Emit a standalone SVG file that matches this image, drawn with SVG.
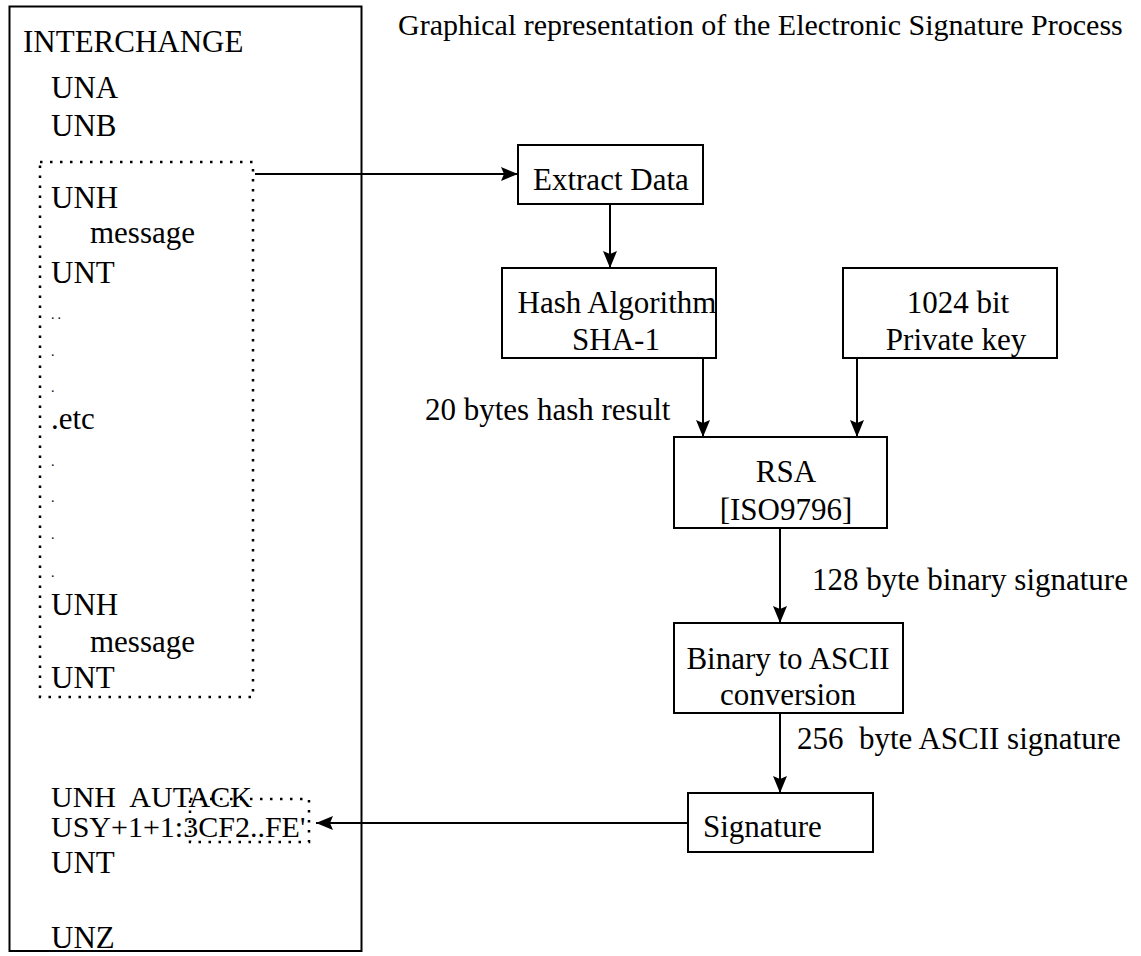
<svg xmlns="http://www.w3.org/2000/svg" width="1141" height="956" viewBox="0 0 1141 956">
<style>
  text { font-family: "Liberation Serif", "Times New Roman", serif; font-size: 31px; fill: #000; }
  .mid { text-anchor: middle; }
  .dot { font-size: 14px; }
  .sm { font-size: 30px; }
  .box { fill: #fff; stroke: #000; stroke-width: 2; }
  .dotted { fill: none; stroke: #000; stroke-width: 2.5; stroke-dasharray: 2.5 7.5; }
  .conn { fill: none; stroke: #000; stroke-width: 2; }
</style>
<defs>
  <marker id="arrow" markerWidth="18" markerHeight="14" refX="17" refY="7" orient="auto" markerUnits="userSpaceOnUse">
    <path d="M0,0 L17,7 L0,14 L3,7 Z" fill="#000"/>
  </marker>
</defs>
<rect width="1141" height="956" fill="#fff"/>

<text x="398" y="35" class="sm">Graphical representation of the Electronic Signature Process</text>

<g id="interchange">
  <rect x="9.5" y="6.5" width="352" height="944.5" class="box"/>
  <text x="23" y="52">INTERCHANGE</text>
  <text x="51" y="98">UNA</text>
  <text x="51" y="136">UNB</text>
  <text x="51" y="873">UNT</text>
  <text x="51" y="948">UNZ</text>
</g>

<g id="messages">
  <rect x="40" y="162" width="213" height="535" class="dotted"/>
  <text x="51" y="208">UNH</text>
  <text x="90" y="243">message</text>
  <text x="51" y="283">UNT</text>
  <text x="51" y="319" class="dot" letter-spacing="3">..</text>
  <text x="51" y="356" class="dot">.</text>
  <text x="51" y="392" class="dot">.</text>
  <text x="51" y="429">.etc</text>
  <text x="51" y="466" class="dot">.</text>
  <text x="51" y="502" class="dot">.</text>
  <text x="51" y="539" class="dot">.</text>
  <text x="51" y="577" class="dot">.</text>
  <text x="51" y="615">UNH</text>
  <text x="90" y="652">message</text>
  <text x="51" y="688">UNT</text>
</g>

<g id="autack">
  <text x="51" y="807" class="sm" xml:space="preserve">UNH  AUTACK</text>
  <text x="51" y="837" class="sm">USY+1+1:3CF2..FE'</text>
  <rect x="190" y="799" width="119" height="43" class="dotted"/>
</g>

<g id="extract">
  <rect x="518" y="145" width="185" height="59" class="box"/>
  <text x="533" y="190">Extract Data</text>
</g>

<g id="hash">
  <rect x="502" y="268" width="214" height="90" class="box"/>
  <text x="617" y="313" class="mid">Hash Algorithm</text>
  <text x="616" y="350" class="mid">SHA-1</text>
</g>

<g id="privatekey">
  <rect x="843" y="268" width="214" height="90" class="box"/>
  <text x="958" y="313" class="mid">1024 bit</text>
  <text x="956" y="350" class="mid">Private key</text>
</g>

<g id="rsa">
  <rect x="674" y="437" width="213" height="91" class="box"/>
  <text x="786" y="482" class="mid">RSA</text>
  <text x="786" y="520" class="mid">[ISO9796]</text>
</g>

<g id="binary">
  <rect x="674" y="623" width="229" height="90" class="box"/>
  <text x="788" y="669" class="mid">Binary to ASCII</text>
  <text x="788" y="705" class="mid">conversion</text>
</g>

<g id="signature">
  <rect x="688" y="793" width="185" height="59" class="box"/>
  <text x="703" y="837">Signature</text>
</g>

<g id="connectors">
  <line x1="255" y1="174" x2="518" y2="174" class="conn" marker-end="url(#arrow)"/>
  <line x1="610" y1="204" x2="610" y2="268" class="conn" marker-end="url(#arrow)"/>
  <line x1="703" y1="358" x2="703" y2="437" class="conn" marker-end="url(#arrow)"/>
  <line x1="857" y1="358" x2="857" y2="437" class="conn" marker-end="url(#arrow)"/>
  <line x1="780" y1="528" x2="780" y2="623" class="conn" marker-end="url(#arrow)"/>
  <line x1="780" y1="713" x2="780" y2="793" class="conn" marker-end="url(#arrow)"/>
  <line x1="688" y1="823" x2="316" y2="823" class="conn" marker-end="url(#arrow)"/>
  <text x="425" y="420">20 bytes hash result</text>
  <text x="812" y="590">128 byte binary signature</text>
  <text x="797" y="749" xml:space="preserve">256  byte ASCII signature</text>
</g>
</svg>
